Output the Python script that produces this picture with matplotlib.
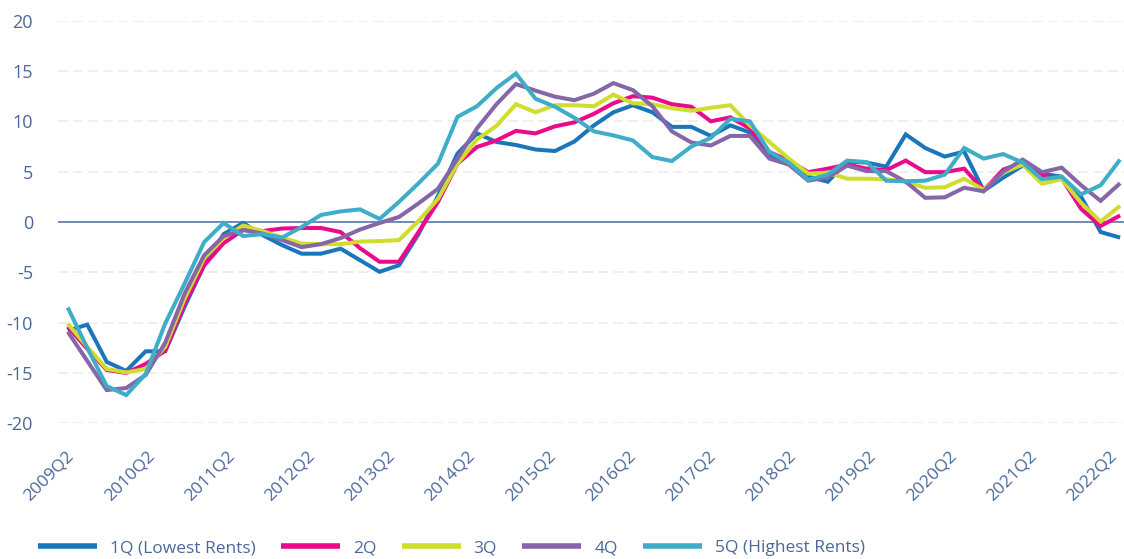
import numpy as np
import matplotlib
matplotlib.use("Agg")
import matplotlib.pyplot as plt

# ---- Data (annual rent growth by rent quintile, %) ----
q1_lowest = [-10.8, -10.2, -13.9, -14.8, -12.85, -12.85, -8.4, -4.3, -1.2, -0.1,
             -1.3, -2.3, -3.15, -3.15, -2.65, -3.8, -4.95, -4.3, -1.2, 2.6,
             6.8, 8.8, 7.95, 7.65, 7.2, 7.05, 8.0, 9.6, 10.9, 11.6,
             10.9, 9.45, 9.45, 8.55, 9.6, 8.9, 6.7, 5.9, 4.5, 4.0,
             6.0, 5.9, 5.5, 8.7, 7.35, 6.5, 7.0, 3.1, 4.4, 5.6,
             4.8, 4.5, 2.5, -1.0, -1.55]
q2 = [-10.4, -12.6, -14.7, -15.0, -14.1, -12.8, -8.1, -4.3, -2.1, -0.8,
      -0.9, -0.65, -0.6, -0.6, -1.0, -2.6, -3.95, -3.95, -1.0, 2.0,
      5.8, 7.45, 8.1, 9.05, 8.8, 9.5, 9.9, 10.75, 11.8, 12.5,
      12.35, 11.7, 11.45, 10.0, 10.4, 9.3, 6.95, 6.1, 4.95, 5.3,
      5.7, 5.3, 5.15, 6.1, 4.95, 4.95, 5.3, 3.15, 5.2, 5.9,
      4.6, 4.35, 1.3, -0.4, 0.65]
q3 = [-10.1, -12.4, -14.6, -14.95, -14.6, -12.4, -7.6, -3.6, -1.6, -0.35,
      -0.9, -1.55, -2.15, -2.2, -2.2, -1.95, -1.9, -1.8, 0.1, 2.3,
      5.8, 8.2, 9.55, 11.7, 10.9, 11.6, 11.6, 11.5, 12.65, 11.8,
      11.7, 11.3, 11.05, 11.35, 11.6, 9.6, 7.95, 6.3, 4.8, 4.9,
      4.3, 4.3, 4.25, 4.0, 3.4, 3.45, 4.3, 3.2, 4.9, 5.7,
      3.8, 4.25, 1.9, 0.05, 1.6]
q4 = [-10.9, -13.8, -16.7, -16.5, -15.2, -12.0, -7.1, -3.3, -1.4, -0.8,
      -1.15, -1.8, -2.5, -2.2, -1.6, -0.75, -0.1, 0.5, 1.85, 3.3,
      6.3, 9.3, 11.7, 13.7, 13.05, 12.45, 12.1, 12.75, 13.8, 13.1,
      11.5, 9.0, 7.9, 7.6, 8.55, 8.55, 6.3, 5.7, 4.1, 4.45,
      5.6, 5.05, 5.05, 4.0, 2.4, 2.45, 3.4, 3.05, 5.0, 6.2,
      4.95, 5.4, 3.65, 2.1, 3.85]
q5_highest = [-8.5, -12.5, -16.3, -17.2, -15.1, -10.1, -6.1, -2.0, -0.1, -1.4,
              -1.2, -1.55, -0.5, 0.7, 1.05, 1.25, 0.3, 2.0, 3.85, 5.8,
              10.45, 11.5, 13.3, 14.75, 12.25, 11.45, 10.35, 9.0, 8.6, 8.1,
              6.45, 6.05, 7.5, 8.35, 10.25, 10.0, 6.95, 5.9, 4.2, 4.7,
              6.1, 5.95, 4.1, 4.05, 4.1, 4.7, 7.35, 6.3, 6.75, 5.9,
              4.25, 4.5, 2.75, 3.65, 6.2]

series_names = ["1Q (Lowest Rents)", "2Q", "3Q", "4Q", "5Q (Highest Rents)"]
series_colors = ["#1a76bb", "#ea0a8a", "#d0dd2e", "#8566a8", "#3fadc8"]
x_labels = ["2009Q2", "2010Q2", "2011Q2", "2012Q2", "2013Q2", "2014Q2", "2015Q2",
            "2016Q2", "2017Q2", "2018Q2", "2019Q2", "2020Q2", "2021Q2", "2022Q2"]
y_ticks = [-20, -15, -10, -5, 0, 5, 10, 15, 20]
y_labels = ["-20", "-15", "-10", "-5", "0", "5", "10", "15", "20"]

text_color = "#4a6898"
plt.rcParams["font.family"] = ["Open Sans", "DejaVu Sans"]

fig = plt.figure(figsize=(11.24, 5.59), dpi=100)
ax = fig.add_axes([58 / 1124, 0.2428, 1066 / 1124, 0.7202])

x = np.arange(len(q1_lowest))
all_series = [q1_lowest, q2, q3, q4, q5_highest]
for vals, name, col in zip(all_series, series_names, series_colors):
    ax.plot(x, vals, color=col, lw=2.9, label=name, solid_joinstyle="miter",
            solid_capstyle="butt")

# grid + zero line
for yv in y_ticks:
    if yv != 0:
        ax.axhline(yv, color="#ececec", lw=1.2, ls=(0, (6, 3)), zorder=0)
ax.axhline(0, color="#4a6a9b", lw=1.1, zorder=1)

ax.set_xlim(-0.5, 54.2)
ax.set_ylim(-20, 20)
ax.set_yticks(y_ticks)
ax.set_yticklabels(y_labels)
ax.set_xticks(np.linspace(0.2, 53.7, len(x_labels)))
ax.set_xticklabels(x_labels, rotation=45, ha="right", va="center",
                   rotation_mode="anchor")
ax.tick_params(axis="y", length=0, pad=18, labelsize=13, labelcolor=text_color)
ax.tick_params(axis="x", length=0, pad=22, labelsize=12.5, labelcolor=text_color)
for sp in ax.spines.values():
    sp.set_visible(False)

leg = fig.legend(loc="center left", bbox_to_anchor=(38 / 1124, 0.0197), ncol=5,
                 frameon=False, fontsize=12.5, handlelength=3.4, handletextpad=0.75,
                 columnspacing=1.45, borderpad=0, borderaxespad=0)
for txt in leg.get_texts():
    txt.set_color(text_color)
for h in leg.get_lines():
    h.set_linewidth(4)

fig.savefig("out.png", dpi=100)
